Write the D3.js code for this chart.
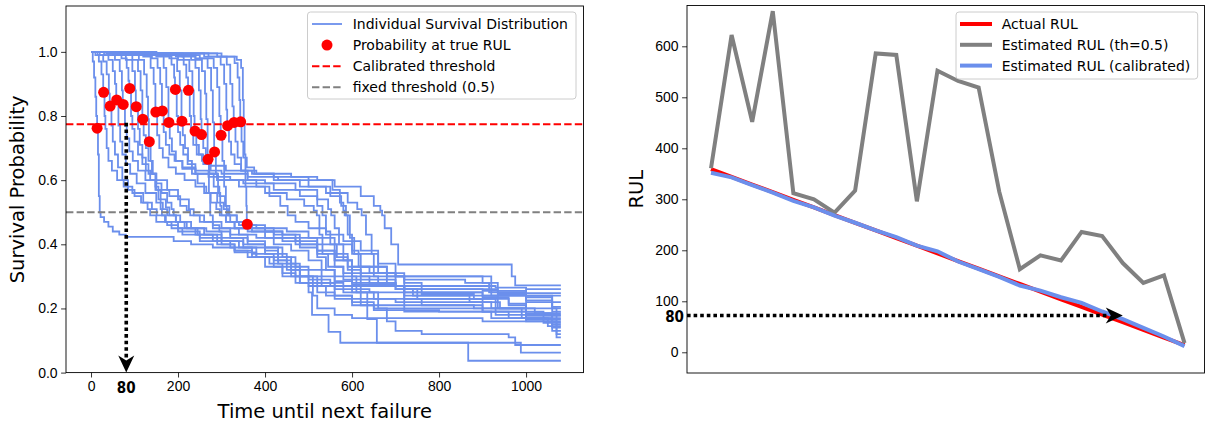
<!DOCTYPE html>
<html>
<head>
  <meta charset="utf-8">
  <title>Survival curves and RUL estimates</title>
  <script src="https://cdn.jsdelivr.net/npm/d3@7"></script>
  <style>
    body { margin: 0; background: #fff; }
    svg { display: block; font-family: "DejaVu Sans", sans-serif; }
    .tick text { font-size: 14px; fill: #000; }
    .tick line { stroke: #000; stroke-width: 0.8; }
  </style>
</head>
<body>
  <svg width="1205" height="428"></svg>

  <script>
    // actual RUL for each of the 24 test units (right panel x order)
    const actualRUL = [359, 344, 329, 314, 299, 284, 269, 254, 239, 224, 209, 194,
                       179, 164, 149, 134, 119, 104, 89, 74, 59, 44, 29, 14];
    // estimate with fixed threshold 0.5
    const estFixed = [361, 622, 452, 669, 312, 300, 274, 317, 586, 583, 296, 552,
                      532, 519, 315, 163, 190, 180, 236, 228, 175, 136, 151, 18];
    // estimate with calibrated threshold
    const estCalib = [352, 343, 328, 313, 297, 284, 268, 254, 239, 226, 209, 198,
                      178, 163, 148, 131, 121, 108, 97, 80, 65, 48, 31, 12];
    // survival probability at the true RUL
    const probAtRUL = [0.4625, 0.782, 0.78, 0.77, 0.74, 0.688, 0.665, 0.742, 0.753, 0.88, 0.784, 0.883,
                       0.78, 0.816, 0.8125, 0.72, 0.79, 0.829, 0.886, 0.836, 0.85, 0.831, 0.874, 0.762];

    const calibratedTh = 0.774;
    const fixedTh = 0.5;
    const endTime = 1080;

    // survival curves, [time, probability] knots of each step function
    const survivalCurves = [
      [[0,1],[150,0.995],[300,0.985],[335,0.975],[345,0.95],[349,0.85],[351,0.78],[353,0.68],[355,0.58],[357,0.52],[358,0.4625],[370,0.45],[400,0.44],[440,0.43],[480,0.42],[520,0.4],[560,0.37],[590,0.33],[620,0.3],[660,0.28],[700,0.27],[720,0.25],[900,0.235],[960,0.215],[1000,0.2],[1070,0.11]],
      [[0,1],[150,0.995],[290,0.985],[330,0.965],[337,0.92],[341,0.85],[343,0.782],[346,0.72],[350,0.67],[358,0.64],[375,0.62],[420,0.6],[480,0.58],[540,0.56],[590,0.53],[612,0.51],[622,0.49],[632,0.43],[645,0.37],[660,0.33],[680,0.3],[720,0.29],[860,0.28],[920,0.26],[935,0.245],[1000,0.235],[1060,0.2]],
      [[0,1],[140,0.995],[270,0.985],[312,0.96],[320,0.9],[325,0.83],[328,0.78],[332,0.72],[337,0.67],[345,0.63],[360,0.6],[380,0.58],[410,0.55],[435,0.52],[452,0.49],[470,0.47],[500,0.45],[540,0.43],[580,0.41],[620,0.38],[660,0.34],[700,0.3],[720,0.26],[760,0.245],[880,0.23],[900,0.19],[1000,0.17],[1060,0.13]],
      [[0,1],[130,0.995],[260,0.985],[298,0.96],[306,0.9],[311,0.82],[313,0.77],[317,0.72],[322,0.68],[330,0.65],[345,0.63],[370,0.62],[420,0.61],[500,0.6],[560,0.58],[620,0.55],[650,0.52],[665,0.505],[669,0.49],[675,0.45],[690,0.4],[706,0.337],[967,0.3],[975,0.272]],
      [[0,1],[130,0.99],[250,0.98],[282,0.95],[290,0.89],[295,0.8],[298,0.74],[302,0.66],[306,0.58],[310,0.52],[312,0.49],[320,0.47],[340,0.46],[380,0.45],[420,0.43],[470,0.41],[520,0.38],[560,0.35],[600,0.33],[650,0.31],[700,0.27],[720,0.23],[760,0.21],[900,0.2],[930,0.18],[1000,0.165],[1060,0.15]],
      [[0,1],[120,0.99],[240,0.98],[268,0.95],[276,0.88],[280,0.78],[283,0.688],[287,0.62],[292,0.56],[297,0.52],[300,0.49],[310,0.47],[330,0.45],[370,0.44],[420,0.42],[470,0.4],[520,0.38],[560,0.35],[600,0.3],[610,0.25],[635,0.167],[657,0.093],[988,0.062]],
      [[0,1],[120,0.99],[230,0.975],[255,0.94],[262,0.87],[265,0.79],[268,0.665],[271,0.56],[274,0.49],[280,0.46],[295,0.44],[320,0.42],[360,0.4],[400,0.38],[430,0.35],[460,0.32],[480,0.3],[520,0.28],[560,0.27],[620,0.25],[660,0.2],[680,0.16],[700,0.13],[760,0.12],[960,0.11],[975,0.086]],
      [[0,1],[100,0.995],[210,0.985],[240,0.95],[248,0.88],[252,0.79],[254,0.742],[258,0.7],[264,0.66],[272,0.62],[282,0.58],[295,0.55],[308,0.52],[318,0.49],[335,0.47],[360,0.46],[400,0.45],[450,0.44],[500,0.42],[560,0.4],[600,0.37],[650,0.33],[680,0.29],[700,0.26],[740,0.24],[1000,0.22],[1060,0.19]],
      [[0,1],[100,0.99],[200,0.975],[226,0.94],[233,0.88],[236,0.8],[238,0.753],[242,0.71],[248,0.68],[258,0.65],[275,0.63],[300,0.62],[360,0.61],[430,0.6],[500,0.58],[550,0.55],[575,0.52],[586,0.49],[595,0.42],[605,0.37],[620,0.33],[660,0.31],[720,0.3],[900,0.28],[915,0.25],[1000,0.24]],
      [[0,1],[100,0.995],[195,0.985],[213,0.96],[219,0.92],[223,0.88],[227,0.8],[230,0.75],[235,0.71],[243,0.68],[255,0.66],[275,0.645],[310,0.63],[380,0.62],[460,0.61],[520,0.6],[555,0.57],[572,0.53],[580,0.505],[583,0.49],[590,0.43],[600,0.38],[615,0.33],[640,0.31],[700,0.3],[920,0.28],[935,0.25],[1000,0.24],[1060,0.22]],
      [[0,1],[90,0.995],[180,0.98],[198,0.94],[204,0.88],[208,0.784],[211,0.74],[216,0.7],[223,0.66],[232,0.62],[245,0.59],[260,0.56],[275,0.53],[288,0.51],[296,0.49],[310,0.47],[330,0.45],[360,0.44],[400,0.42],[440,0.41],[480,0.39],[520,0.36],[540,0.32],[560,0.28],[580,0.25],[620,0.23],[700,0.22],[940,0.2],[1000,0.18],[1060,0.165]],
      [[0,1],[90,0.995],[170,0.985],[185,0.96],[191,0.92],[193,0.883],[197,0.8],[200,0.75],[205,0.71],[212,0.68],[222,0.65],[240,0.63],[270,0.61],[320,0.6],[400,0.59],[470,0.57],[520,0.54],[545,0.51],[552,0.49],[560,0.45],[570,0.4],[580,0.35],[600,0.3],[640,0.28],[700,0.27],[720,0.25],[900,0.24],[1000,0.225],[1060,0.205]],
      [[0,1],[80,0.995],[150,0.985],[167,0.95],[173,0.89],[178,0.78],[181,0.73],[186,0.69],[195,0.66],[210,0.635],[240,0.62],[290,0.6],[350,0.59],[420,0.57],[480,0.55],[520,0.52],[532,0.49],[540,0.44],[550,0.4],[565,0.36],[590,0.32],[620,0.29],[680,0.27],[720,0.24],[870,0.22],[920,0.2],[1000,0.18]],
      [[0,1],[80,0.99],[140,0.98],[153,0.95],[159,0.9],[163,0.816],[167,0.75],[172,0.71],[180,0.68],[192,0.66],[210,0.64],[240,0.62],[290,0.6],[340,0.58],[400,0.56],[450,0.54],[490,0.52],[512,0.505],[519,0.49],[525,0.43],[532,0.37],[545,0.33],[580,0.31],[650,0.3],[720,0.28],[760,0.26],[920,0.24],[935,0.2],[1020,0.185]],
      [[0,1],[60,0.995],[120,0.985],[137,0.95],[144,0.9],[148,0.8125],[152,0.74],[157,0.7],[165,0.67],[178,0.64],[195,0.62],[215,0.6],[240,0.58],[265,0.56],[290,0.53],[305,0.51],[315,0.49],[335,0.47],[360,0.45],[400,0.44],[440,0.42],[480,0.4],[520,0.37],[560,0.33],[580,0.29],[620,0.27],[700,0.26],[750,0.23],[960,0.21],[1000,0.19],[1040,0.17]],
      [[0,1],[60,0.99],[110,0.975],[122,0.93],[128,0.86],[131,0.79],[133,0.72],[137,0.66],[142,0.62],[148,0.58],[155,0.54],[160,0.51],[163,0.49],[172,0.47],[185,0.45],[210,0.43],[250,0.41],[290,0.4],[330,0.38],[370,0.36],[410,0.34],[440,0.31],[470,0.28],[500,0.25],[508,0.18],[546,0.127],[573,0.093],[867,0.037]],
      [[0,1],[50,0.99],[95,0.975],[108,0.94],[114,0.88],[118,0.79],[121,0.74],[126,0.7],[132,0.66],[140,0.62],[150,0.59],[162,0.56],[175,0.53],[185,0.51],[190,0.49],[205,0.47],[230,0.45],[265,0.44],[300,0.42],[350,0.4],[400,0.39],[440,0.36],[470,0.33],[500,0.3],[530,0.27],[560,0.24],[600,0.22],[650,0.2],[720,0.19],[920,0.17],[1000,0.16],[1070,0.12]],
      [[0,1],[40,0.99],[80,0.975],[95,0.94],[101,0.88],[103,0.829],[108,0.76],[112,0.71],[118,0.67],[126,0.63],[136,0.6],[148,0.57],[160,0.54],[172,0.515],[180,0.49],[195,0.47],[215,0.45],[245,0.43],[280,0.41],[320,0.39],[370,0.37],[420,0.35],[450,0.32],[480,0.28],[510,0.24],[520,0.2],[560,0.18],[600,0.17],[900,0.16],[1060,0.14]],
      [[0,1],[35,0.995],[70,0.98],[82,0.95],[86,0.91],[88,0.886],[92,0.8],[95,0.76],[100,0.72],[108,0.68],[118,0.65],[132,0.62],[150,0.6],[175,0.57],[200,0.54],[225,0.51],[236,0.49],[260,0.47],[300,0.45],[340,0.43],[380,0.42],[420,0.4],[460,0.38],[500,0.35],[530,0.32],[560,0.3],[600,0.28],[680,0.27],[720,0.26],[900,0.255],[1000,0.248]],
      [[0,1],[30,0.99],[55,0.975],[66,0.94],[71,0.88],[73,0.836],[78,0.77],[82,0.73],[88,0.69],[96,0.66],[108,0.63],[125,0.6],[150,0.57],[180,0.55],[205,0.52],[220,0.505],[228,0.49],[250,0.47],[280,0.45],[320,0.43],[360,0.41],[400,0.39],[430,0.36],[460,0.33],[480,0.3],[510,0.28],[560,0.26],[640,0.25],[720,0.23],[930,0.2],[990,0.17],[1050,0.145]],
      [[0,1],[20,0.99],[40,0.975],[50,0.94],[55,0.9],[58,0.85],[63,0.77],[67,0.72],[72,0.68],[80,0.65],[90,0.62],[105,0.59],[125,0.56],[150,0.53],[165,0.51],[175,0.49],[195,0.47],[220,0.45],[260,0.43],[300,0.41],[350,0.39],[380,0.36],[420,0.33],[460,0.3],[500,0.29],[550,0.27],[600,0.25],[650,0.23],[720,0.21],[880,0.2],[1000,0.185],[1060,0.16]],
      [[0,1],[15,0.99],[28,0.97],[36,0.93],[41,0.87],[43,0.831],[47,0.77],[50,0.72],[55,0.68],[62,0.64],[72,0.6],[85,0.57],[100,0.55],[115,0.53],[130,0.51],[136,0.49],[150,0.47],[175,0.46],[200,0.44],[250,0.42],[300,0.4],[330,0.38],[360,0.36],[400,0.33],[440,0.3],[480,0.28],[520,0.25],[560,0.23],[620,0.21],[720,0.2],[900,0.19],[960,0.17],[1040,0.155]],
      [[0,1],[10,0.99],[18,0.97],[24,0.93],[28,0.874],[31,0.8],[33,0.76],[36,0.7],[40,0.66],[48,0.63],[60,0.6],[75,0.58],[95,0.56],[120,0.53],[140,0.51],[151,0.49],[170,0.47],[200,0.45],[240,0.43],[290,0.41],[340,0.39],[400,0.37],[450,0.34],[470,0.3],[500,0.27],[540,0.24],[600,0.21],[650,0.195],[800,0.19],[1000,0.177]],
      [[0,1],[4,0.97],[7,0.92],[10,0.86],[12,0.8],[14,0.762],[16,0.68],[18,0.55],[20,0.5],[22,0.485],[30,0.47],[40,0.455],[50,0.44],[65,0.43],[80,0.423],[190,0.41],[230,0.4],[280,0.39],[330,0.375],[380,0.36],[430,0.34],[480,0.32],[530,0.3],[560,0.285],[600,0.275],[700,0.27],[930,0.265],[1000,0.26]]
    ];

    const timeTicks = [0, 200, 400, 600, 800, 1000];
    const probTicks = [0, 0.2, 0.4, 0.6, 0.8, 1.0];
    const rulTicks = [0, 100, 200, 300, 400, 500, 600];

    // annotation arrows
    const leftArrowT = 81;
    const rightArrowY = 72;
    const rightArrowIdx = 20;
    const arrowLabel = "80";

    const blue = "#6b8fec";
    const svg = d3.select("svg");

    // ---------- left panel ----------
    const L = { x0: 66, x1: 583.5, y0: 6, y1: 372.6 };
    const xL = d3.scaleLinear().domain([-57.5, 1132]).range([L.x0, L.x1]);
    const yL = d3.scaleLinear().domain([0, 1.143]).range([L.y1, L.y0]);

    const gL = svg.append("g");

    const stepLine = d3.line()
      .x(d => xL(d[0]))
      .y(d => yL(d[1]))
      .curve(d3.curveStepAfter);

    gL.selectAll("path.curve")
      .data(survivalCurves)
      .join("path")
      .attr("class", "curve")
      .attr("fill", "none")
      .attr("stroke", blue)
      .attr("stroke-width", 1.8)
      .attr("d", d => stepLine(d.concat([[endTime, d[d.length - 1][1]]])));

    gL.append("line")
      .attr("x1", L.x0).attr("x2", L.x1)
      .attr("y1", yL(calibratedTh)).attr("y2", yL(calibratedTh))
      .attr("stroke", "red").attr("stroke-width", 2)
      .attr("stroke-dasharray", "7.4,3.2");

    gL.append("line")
      .attr("x1", L.x0).attr("x2", L.x1)
      .attr("y1", yL(fixedTh)).attr("y2", yL(fixedTh))
      .attr("stroke", "#808080").attr("stroke-width", 2)
      .attr("stroke-dasharray", "7.4,3.2");

    gL.selectAll("circle.dot")
      .data(actualRUL.map((t, i) => [t, probAtRUL[i]]))
      .join("circle")
      .attr("class", "dot")
      .attr("cx", d => xL(d[0]))
      .attr("cy", d => yL(d[1]))
      .attr("r", 5.5)
      .attr("fill", "red");

    // dotted arrow down to the time axis
    const ax = xL(leftArrowT);
    gL.append("line")
      .attr("x1", ax).attr("x2", ax)
      .attr("y1", yL(calibratedTh) - 1.5).attr("y2", yL(0) - 14)
      .attr("stroke", "#000").attr("stroke-width", 3.6)
      .attr("stroke-dasharray", "3.6,3");
    gL.append("path")
      .attr("d", `M${ax},${yL(0)} L${ax - 8},${yL(0) - 17} L${ax},${yL(0) - 12} L${ax + 8},${yL(0) - 17} Z`)
      .attr("fill", "#000");

    gL.append("rect")
      .attr("x", L.x0).attr("y", L.y0)
      .attr("width", L.x1 - L.x0).attr("height", L.y1 - L.y0)
      .attr("fill", "none").attr("stroke", "#000").attr("stroke-width", 0.9);

    gL.append("g")
      .attr("transform", `translate(0,${L.y1})`)
      .call(d3.axisBottom(xL).tickValues(timeTicks).tickFormat(d3.format("d")).tickSize(4.9).tickPadding(3.5))
      .call(g => g.select(".domain").remove());

    gL.append("g")
      .attr("transform", `translate(${L.x0},0)`)
      .call(d3.axisLeft(yL).tickValues(probTicks).tickFormat(d3.format(".1f")).tickSize(4.9).tickPadding(3.5))
      .call(g => g.select(".domain").remove());

    gL.append("text")
      .attr("x", ax).attr("y", 393)
      .attr("text-anchor", "middle")
      .attr("font-size", 15).attr("font-weight", "bold")
      .attr("font-stretch", "condensed")
      .text(arrowLabel);

    gL.append("text")
      .attr("x", (L.x0 + L.x1) / 2).attr("y", 418)
      .attr("text-anchor", "middle").attr("font-size", 19.5)
      .text("Time until next failure");

    gL.append("text")
      .attr("transform", `translate(24,${(L.y0 + L.y1) / 2}) rotate(-90)`)
      .attr("text-anchor", "middle").attr("font-size", 19.5)
      .text("Survival Probability");

    // left legend
    const lg = gL.append("g");
    lg.append("rect")
      .attr("x", 307.5).attr("y", 12).attr("width", 268.5).attr("height", 87)
      .attr("rx", 3).attr("fill", "#fff").attr("fill-opacity", 0.8)
      .attr("stroke", "#cccccc").attr("stroke-width", 1);
    const legL = [
      { label: "Individual Survival Distribution", type: "line", color: blue, dash: null, w: 1.8 },
      { label: "Probability at true RUL", type: "dot", color: "red" },
      { label: "Calibrated threshold", type: "line", color: "red", dash: "7.4,3.2", w: 2 },
      { label: "fixed threshold (0.5)", type: "line", color: "#808080", dash: "7.4,3.2", w: 2 }
    ];
    legL.forEach((d, i) => {
      const cy = 24 + i * 21.1;
      if (d.type === "line") {
        lg.append("line").attr("x1", 312).attr("x2", 342).attr("y1", cy).attr("y2", cy)
          .attr("stroke", d.color).attr("stroke-width", d.w)
          .attr("stroke-dasharray", d.dash);
      } else {
        lg.append("circle").attr("cx", 327).attr("cy", cy).attr("r", 5.5).attr("fill", d.color);
      }
      lg.append("text").attr("x", 352.7).attr("y", cy + 5).attr("font-size", 14).text(d.label);
    });

    // ---------- right panel ----------
    const R = { x0: 687, x1: 1204.5, y0: 5.5, y1: 373 };
    const xR = d3.scaleLinear().domain([-1.166, 23.97]).range([R.x0, R.x1]);
    const yR = d3.scaleLinear().domain([-40.6, 680]).range([R.y1, R.y0]);

    const gR = svg.append("g");
    const rulLine = d3.line().x((d, i) => xR(i)).y(d => yR(d));

    const series = [
      { label: "Actual RUL", values: actualRUL, color: "red" },
      { label: "Estimated RUL (th=0.5)", values: estFixed, color: "#808080" },
      { label: "Estimated RUL (calibrated)", values: estCalib, color: blue }
    ];

    series.forEach(s => {
      gR.append("path")
        .attr("d", rulLine(s.values))
        .attr("fill", "none")
        .attr("stroke", s.color)
        .attr("stroke-width", 4)
        .attr("stroke-linejoin", "miter");
    });

    // dotted arrow across to the curves
    const ay = yR(rightArrowY);
    const tipX = xR(rightArrowIdx);
    gR.append("line")
      .attr("x1", R.x0).attr("x2", tipX - 14)
      .attr("y1", ay).attr("y2", ay)
      .attr("stroke", "#000").attr("stroke-width", 3.6)
      .attr("stroke-dasharray", "3.6,3");
    gR.append("path")
      .attr("d", `M${tipX},${ay} L${tipX - 17},${ay - 8} L${tipX - 12},${ay} L${tipX - 17},${ay + 8} Z`)
      .attr("fill", "#000");

    gR.append("rect")
      .attr("x", R.x0).attr("y", R.y0)
      .attr("width", R.x1 - R.x0).attr("height", R.y1 - R.y0)
      .attr("fill", "none").attr("stroke", "#000").attr("stroke-width", 0.9);

    gR.append("g")
      .attr("transform", `translate(${R.x0},0)`)
      .call(d3.axisLeft(yR).tickValues(rulTicks).tickSize(4.9).tickPadding(3.5))
      .call(g => g.select(".domain").remove());

    gR.append("text")
      .attr("x", 684).attr("y", ay + 6)
      .attr("text-anchor", "end")
      .attr("font-size", 15).attr("font-weight", "bold")
      .attr("font-stretch", "condensed")
      .text(arrowLabel);

    gR.append("text")
      .attr("transform", `translate(643,${(R.y0 + R.y1) / 2}) rotate(-90)`)
      .attr("text-anchor", "middle").attr("font-size", 19.5)
      .text("RUL");

    // right legend
    const rg = gR.append("g");
    rg.append("rect")
      .attr("x", 956).attr("y", 12).attr("width", 241.7).attr("height", 67)
      .attr("rx", 3).attr("fill", "#fff").attr("fill-opacity", 0.8)
      .attr("stroke", "#cccccc").attr("stroke-width", 1);
    series.forEach((s, i) => {
      const cy = 24 + i * 20.8;
      rg.append("line").attr("x1", 960).attr("x2", 992).attr("y1", cy).attr("y2", cy)
        .attr("stroke", s.color).attr("stroke-width", 4);
      rg.append("text").attr("x", 1001.7).attr("y", cy + 5).attr("font-size", 14).text(s.label);
    });
  </script>
</body>
</html>
